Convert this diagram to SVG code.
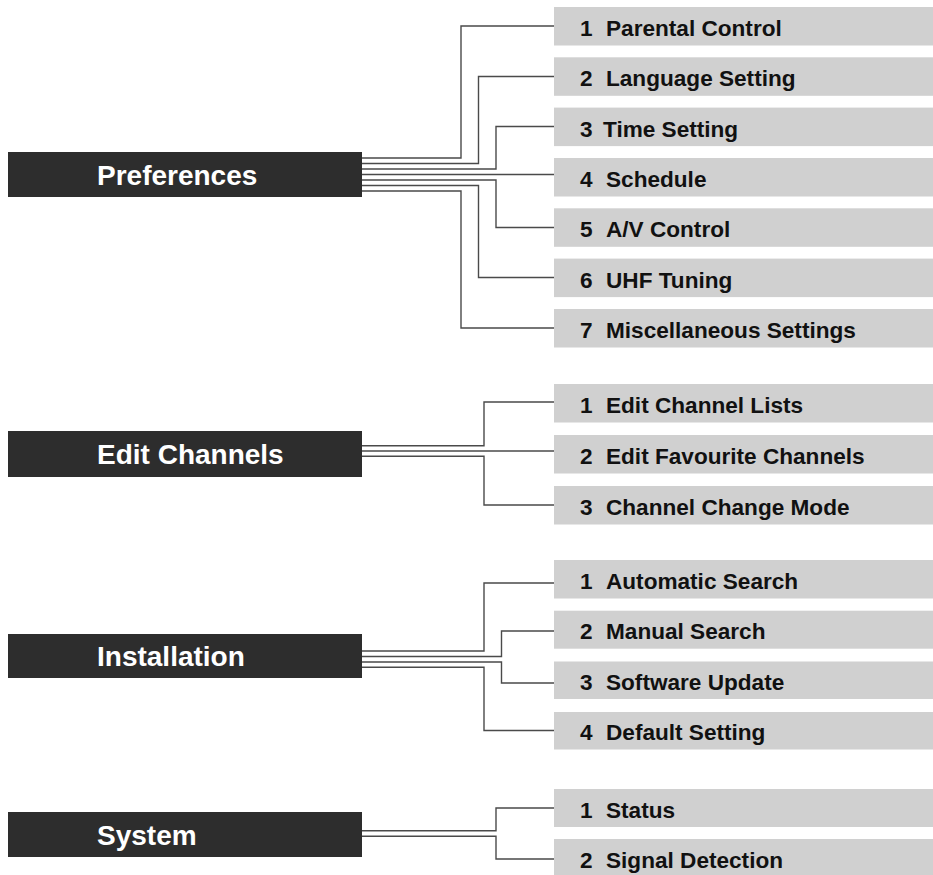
<svg xmlns="http://www.w3.org/2000/svg" width="933" height="875" viewBox="0 0 933 875">
<style>
.bg{fill:#ffffff}
.main rect{fill:#2d2d2d}
.main text{fill:#ffffff;font-family:"Liberation Sans",Arial,sans-serif;font-weight:bold;font-size:28px}
.item rect{fill:#d0d0d0}
.item text{fill:#111111;font-family:"Liberation Sans",Arial,sans-serif;font-weight:bold;font-size:22.6px}
.conn path{fill:none;stroke:#4a4a4a;stroke-width:1.4}
</style>
<rect class="bg" x="0" y="0" width="933" height="875"/>
<g id="connectors" class="conn">
<path d="M362,158 H461 V26 H554"/>
<path d="M362,163.5 H478.5 V76.5 H554"/>
<path d="M362,169 H496 V126.5 H554"/>
<path d="M362,174.5 H554"/>
<path d="M362,180 H496 V227.5 H554"/>
<path d="M362,185.5 H478.5 V277.5 H554"/>
<path d="M362,191 H461 V328 H554"/>
<path d="M362,445.7 H484 V402 H554"/>
<path d="M362,451 H554"/>
<path d="M362,456.3 H484 V505 H554"/>
<path d="M362,651 H484 V583 H554"/>
<path d="M362,656.5 H501.5 V631 H554"/>
<path d="M362,662 H501.5 V683 H554"/>
<path d="M362,667.3 H484 V730.5 H554"/>
<path d="M362,830.7 H496 V808 H554"/>
<path d="M362,836.3 H496 V859 H554"/>
</g>
<g id="preferences" class="main"><rect x="8" y="152" width="354" height="45"/><text x="97" y="185">Preferences</text></g>
<g id="edit-channels" class="main"><rect x="8" y="431" width="354" height="46"/><text x="97" y="464">Edit Channels</text></g>
<g id="installation" class="main"><rect x="8" y="634" width="354" height="44"/><text x="97" y="666">Installation</text></g>
<g id="system" class="main"><rect x="8" y="812" width="354" height="45"/><text x="97" y="845">System</text></g>

<g id="pref-1" class="item"><rect x="554" y="7" width="379" height="38.5"/><text y="35.5"><tspan x="580">1</tspan><tspan x="606">Parental Control</tspan></text></g>
<g id="pref-2" class="item"><rect x="554" y="57.3" width="379" height="38.5"/><text y="86"><tspan x="580">2</tspan><tspan x="606">Language Setting</tspan></text></g>
<g id="pref-3" class="item"><rect x="554" y="107.6" width="379" height="38.5"/><text y="136.5"><tspan x="580">3</tspan><tspan x="603">Time Setting</tspan></text></g>
<g id="pref-4" class="item"><rect x="554" y="158" width="379" height="38.5"/><text y="186.5"><tspan x="580">4</tspan><tspan x="606">Schedule</tspan></text></g>
<g id="pref-5" class="item"><rect x="554" y="208.3" width="379" height="38.5"/><text y="237"><tspan x="580">5</tspan><tspan x="606">A/V Control</tspan></text></g>
<g id="pref-6" class="item"><rect x="554" y="258.6" width="379" height="38.5"/><text y="287.5"><tspan x="580">6</tspan><tspan x="606">UHF Tuning</tspan></text></g>
<g id="pref-7" class="item"><rect x="554" y="309" width="379" height="38.5"/><text y="337.5"><tspan x="580">7</tspan><tspan x="606">Miscellaneous Settings</tspan></text></g>

<g id="edit-1" class="item"><rect x="554" y="384" width="379" height="38.5"/><text y="412.5"><tspan x="580">1</tspan><tspan x="606">Edit Channel Lists</tspan></text></g>
<g id="edit-2" class="item"><rect x="554" y="435" width="379" height="38.5"/><text y="463.5"><tspan x="580">2</tspan><tspan x="606">Edit Favourite Channels</tspan></text></g>
<g id="edit-3" class="item"><rect x="554" y="486" width="379" height="38.5"/><text y="514.5"><tspan x="580">3</tspan><tspan x="606">Channel Change Mode</tspan></text></g>

<g id="inst-1" class="item"><rect x="554" y="560" width="379" height="38.5"/><text y="588.5"><tspan x="580">1</tspan><tspan x="606">Automatic Search</tspan></text></g>
<g id="inst-2" class="item"><rect x="554" y="610.7" width="379" height="38"/><text y="639"><tspan x="580">2</tspan><tspan x="606">Manual Search</tspan></text></g>
<g id="inst-3" class="item"><rect x="554" y="661.5" width="379" height="37.5"/><text y="689.5"><tspan x="580">3</tspan><tspan x="606">Software Update</tspan></text></g>
<g id="inst-4" class="item"><rect x="554" y="712" width="379" height="37.5"/><text y="740"><tspan x="580">4</tspan><tspan x="606">Default Setting</tspan></text></g>

<g id="sys-1" class="item"><rect x="554" y="789" width="379" height="38"/><text y="817.5"><tspan x="580">1</tspan><tspan x="606">Status</tspan></text></g>
<g id="sys-2" class="item"><rect x="554" y="839" width="379" height="38"/><text y="867.5"><tspan x="580">2</tspan><tspan x="606">Signal Detection</tspan></text></g>
</svg>
